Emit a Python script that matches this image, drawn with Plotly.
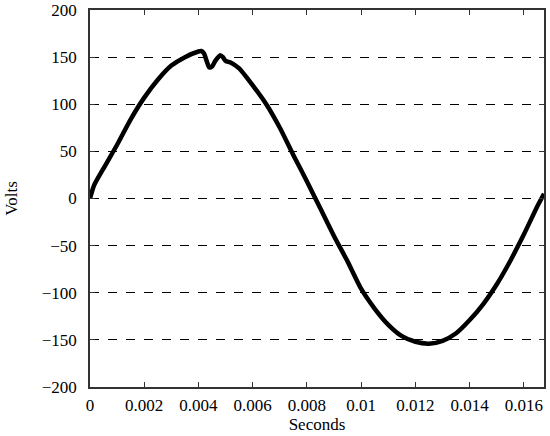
import plotly.graph_objects as go

# waveform (seconds, volts)
time_s = [0.0, 0.00015, 0.0005, 0.001, 0.0015, 0.002, 0.0025, 0.003, 0.0035,
          0.004, 0.0041, 0.0042, 0.0043, 0.0044, 0.0045, 0.0046, 0.0047,
          0.0048, 0.0049, 0.005, 0.0052, 0.0055, 0.006, 0.0065, 0.007,
          0.0075, 0.008, 0.0085, 0.009, 0.0095, 0.01, 0.0105, 0.011,
          0.0115, 0.012, 0.0125, 0.013, 0.0135, 0.014, 0.0145, 0.015,
          0.0155, 0.016, 0.0165, 0.01674]
volts = [0, 14, 32, 57, 84, 107, 126, 141, 150,
         156, 156.5, 154, 146, 139, 140, 145, 149,
         152, 150, 146, 144, 138, 120, 100, 75,
         46, 18, -11, -40, -67, -96, -117, -134,
         -146, -152, -154, -151, -143, -129, -112, -91,
         -66, -38, -8, 5]

x_ticks = [0, 0.002, 0.004, 0.006, 0.008, 0.01, 0.012, 0.014, 0.016]
x_labels = ["0", "0.002", "0.004", "0.006", "0.008", "0.01", "0.012", "0.014", "0.016"]
y_ticks = [-200, -150, -100, -50, 0, 50, 100, 150, 200]

fig = go.Figure()
fig.add_trace(
    go.Scatter(
        x=time_s,
        y=volts,
        mode="lines",
        line=dict(color="black", width=4.5, shape="spline", smoothing=0.6),
        showlegend=False,
    )
)

font = dict(family="Liberation Serif, Times New Roman, serif", size=17, color="black")
fig.update_layout(
    width=550,
    height=436,
    margin=dict(l=90, r=6, t=10, b=49),
    plot_bgcolor="white",
    paper_bgcolor="white",
    font=font,
)
fig.update_xaxes(
    range=[0, 0.01674],
    tickvals=x_ticks,
    ticktext=x_labels,
    tickfont=font,
    ticks="inside",
    ticklen=5,
    tickcolor="#333",
    showline=True,
    linecolor="#333",
    linewidth=1.5,
    mirror="ticks",
    showgrid=False,
    zeroline=False,
    automargin=False,
    ticklabeloverflow="allow",
    ticklabelstandoff=2,
    title=dict(text="Seconds", standoff=1, font=font),
)
fig.update_yaxes(
    range=[-200, 200],
    tickvals=y_ticks,
    tickfont=font,
    ticks="inside",
    ticklen=5,
    tickcolor="#333",
    showline=True,
    linecolor="#333",
    linewidth=1.5,
    mirror="ticks",
    showgrid=True,
    gridcolor="black",
    gridwidth=1,
    griddash="dash",
    zeroline=False,
    automargin=False,
    ticklabeloverflow="allow",
    ticklabelstandoff=8,
    title=dict(text="Volts", standoff=20, font=font),
)

# drop the page's default body margin so the figure sits at the window corner
fig.write_html(
    "out.html",
    config={"displayModeBar": False},
    post_script="document.body.style.margin='0';",
)
